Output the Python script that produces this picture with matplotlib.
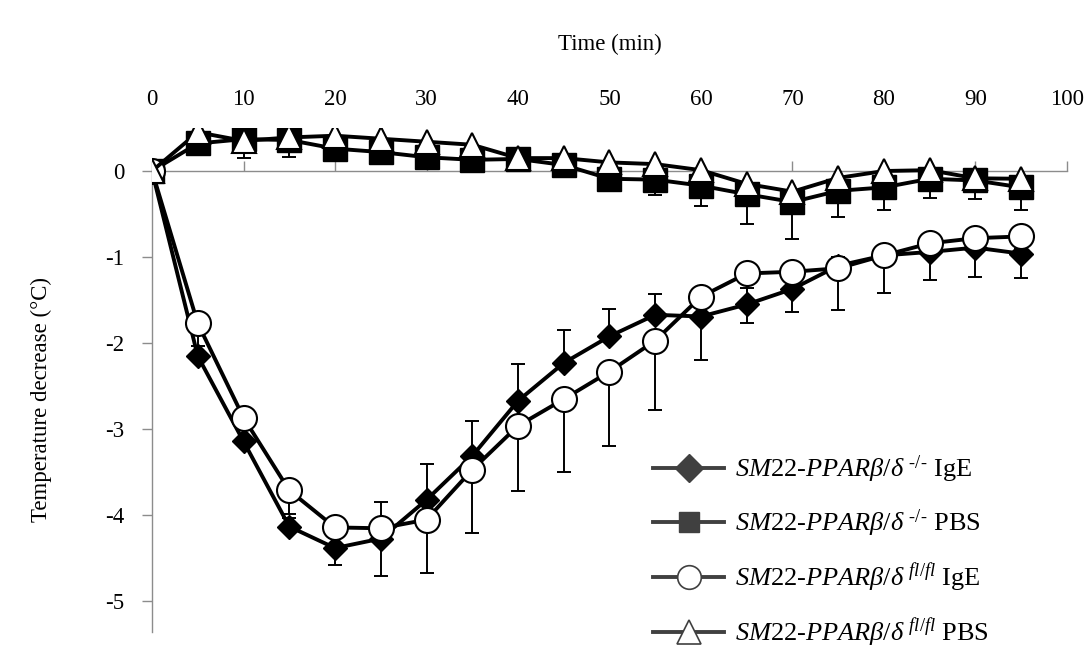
import numpy as np
import matplotlib
matplotlib.use('Agg')
import matplotlib.pyplot as plt
from matplotlib.lines import Line2D

plt.rcParams['font.family'] = ['Liberation Serif', 'DejaVu Serif']
plt.rcParams['mathtext.fontset'] = 'custom'
plt.rcParams['mathtext.rm'] = 'Liberation Serif'
plt.rcParams['mathtext.it'] = 'Liberation Serif:italic'
plt.rcParams['axes.unicode_minus'] = False

# time points (min)
time = [0, 5, 10, 15, 20, 25, 30, 35, 40, 45, 50, 55, 60, 65, 70, 75, 80, 85, 90, 95]

# SM22-PPARb/d -/- IgE (diamonds), bars point up
ko_ige = [0, -2.15, -3.14, -4.13, -4.38, -4.27, -3.82, -3.31, -2.67, -2.23,
          -1.92, -1.67, -1.69, -1.55, -1.37, -1.10, -0.98, -0.94, -0.89, -0.96]
ko_ige_err = [0, 0.05, 0.05, 0.10, 0.12, 0.43, 0.42, 0.41, 0.43, 0.38,
              0.32, 0.24, 0.10, 0.19, 0.10, 0.10, 0.05, 0.05, 0.05, 0.05]

# SM22-PPARb/d -/- PBS (squares), bars point down
ko_pbs = [0, 0.32, 0.37, 0.36, 0.26, 0.22, 0.16, 0.13, 0.14, 0.07,
          -0.09, -0.10, -0.17, -0.27, -0.36, -0.23, -0.19, -0.09, -0.11, -0.19]
ko_pbs_err = [0, 0.05, 0.22, 0.20, 0.05, 0.05, 0.05, 0.05, 0.05, 0.05,
              0.08, 0.18, 0.24, 0.35, 0.43, 0.30, 0.26, 0.22, 0.21, 0.26]

# SM22-PPARb/d fl/fl IgE (circles), bars point down
fl_ige = [0, -1.77, -2.865, -3.71, -4.14, -4.15, -4.05, -3.47, -2.96, -2.65,
          -2.33, -1.97, -1.46, -1.19, -1.17, -1.13, -0.98, -0.84, -0.78, -0.76]
fl_ige_err = [0, 0.26, 0.10, 0.27, 0.44, 0.55, 0.62, 0.74, 0.76, 0.85,
              0.86, 0.81, 0.74, 0.58, 0.47, 0.48, 0.44, 0.43, 0.45, 0.48]

# SM22-PPARb/d fl/fl PBS (triangles)
fl_pbs = [0, 0.45, 0.35, 0.39, 0.41, 0.375, 0.34, 0.305, 0.15, 0.15,
          0.10, 0.08, 0.01, -0.15, -0.24, -0.08, 0.0, 0.01, -0.085, -0.09]

labels = [r'$\mathit{SM22}$-$\mathit{PPAR\beta/\delta}^{\ \text{-/-}}$ IgE',
          r'$\mathit{SM22}$-$\mathit{PPAR\beta/\delta}^{\ \text{-/-}}$ PBS',
          r'$\mathit{SM22}$-$\mathit{PPAR\beta/\delta}^{\ \mathit{fl/fl}}$ IgE',
          r'$\mathit{SM22}$-$\mathit{PPAR\beta/\delta}^{\ \mathit{fl/fl}}$ PBS']

fs = 16.5
axis_grey = '#8c8c8c'
legend_grey = '#404040'
zeros = np.zeros(len(time))

fig = plt.figure(figsize=(10.92, 6.61), dpi=100)
ax = fig.add_axes([0.1392, 0.0445, 0.8379, 0.7619])

eb = dict(fmt='none', ecolor='black', elinewidth=1.4, capsize=5, capthick=1.4, zorder=2)
ax.errorbar(time, ko_ige, yerr=[zeros, ko_ige_err], **eb)
ax.errorbar(time, ko_pbs, yerr=[ko_pbs_err, zeros], **eb)
ax.errorbar(time, fl_ige, yerr=[fl_ige_err, zeros], **eb)

ax.plot(time, ko_ige, color='black', lw=2.8, marker='D', ms=12,
        mfc='black', mec='black', zorder=3)
ax.plot(time, ko_pbs, color='black', lw=2.8, marker='s', ms=17,
        mfc='black', mec='black', zorder=3)
ax.plot(time, fl_ige, color='black', lw=2.8, marker='o', ms=18,
        mfc='white', mec='black', mew=1.5, zorder=4)
ax.plot(time, fl_pbs, color='black', lw=2.8, marker='^', ms=17,
        mfc='white', mec='black', mew=1.5, zorder=4)

ax.set_xlim(0, 100)
ax.set_ylim(-5.35, 0.5)
ax.set_xticks(np.arange(0, 101, 10))
ax.set_yticks([-5, -4, -3, -2, -1, 0])

# x axis sits on y = 0, labels on top of the plot
ax.spines['top'].set_position(('data', 0))
ax.spines['left'].set_bounds(-5.35, 0)
ax.spines['bottom'].set_visible(False)
ax.spines['right'].set_visible(False)
for s in ['top', 'left']:
    ax.spines[s].set_color(axis_grey)
    ax.spines[s].set_linewidth(1.0)
ax.xaxis.set_ticks_position('top')
ax.xaxis.set_label_position('top')
ax.tick_params(axis='x', direction='out', length=7, width=1, color=axis_grey,
               pad=37, labelsize=fs)
ax.tick_params(axis='y', direction='out', length=7, width=1, color=axis_grey,
               pad=13, labelsize=fs)

ax.set_xlabel('Time (min)', fontsize=fs, labelpad=28)
ax.set_ylabel('Temperature decrease (°C)', fontsize=fs)
ax.yaxis.set_label_coords(-0.109, 0.46)

handles = [
    Line2D([], [], color=legend_grey, lw=2.8, marker='D', ms=14, mfc=legend_grey, mec=legend_grey),
    Line2D([], [], color=legend_grey, lw=2.8, marker='s', ms=15, mfc=legend_grey, mec=legend_grey),
    Line2D([], [], color=legend_grey, lw=2.8, marker='o', ms=17, mfc='white', mec=legend_grey, mew=1.2),
    Line2D([], [], color=legend_grey, lw=2.8, marker='^', ms=17, mfc='white', mec=legend_grey, mew=1.2),
]
fig.legend(handles, labels, loc='lower left', bbox_to_anchor=(653 / 1092, 0.018),
           frameon=False, fontsize=19, handlelength=2.7, handletextpad=0.4,
           labelspacing=0.85, borderpad=0, borderaxespad=0)

fig.savefig('out.png', dpi=100)
